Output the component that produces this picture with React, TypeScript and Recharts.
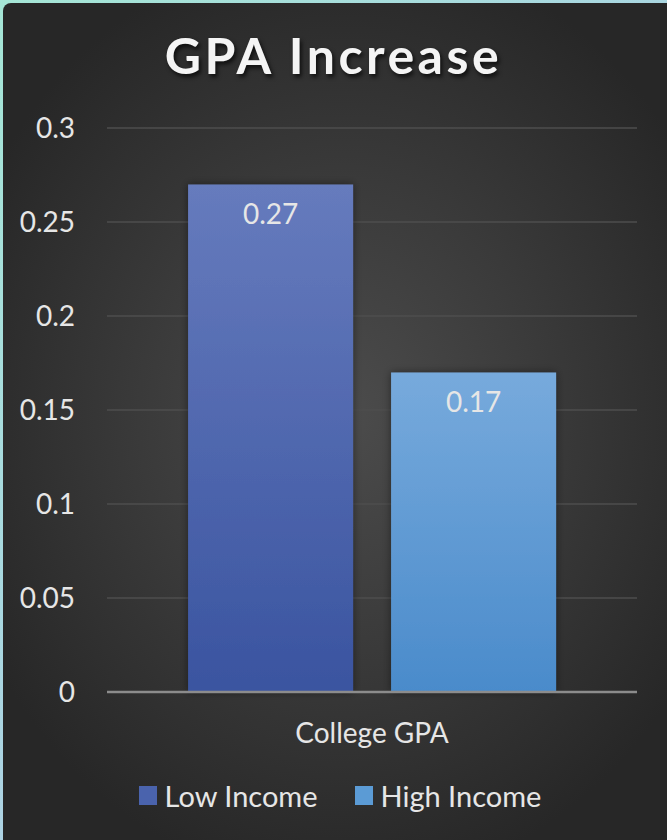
import React from 'react';
import { BarChart, Bar, XAxis, YAxis, CartesianGrid, Legend, LabelList } from 'recharts';

const categories = ['College GPA'];
const lowIncome = [0.27];
const highIncome = [0.17];
const yTicks = [0, 0.05, 0.1, 0.15, 0.2, 0.25, 0.3];

const data = categories.map((name, i) => ({
  name,
  low: lowIncome[i],
  high: highIncome[i],
}));

const FONT = 'Lato, "Open Sans", sans-serif';

const LegendContent = () => (
  <div
    style={{
      display: 'flex',
      justifyContent: 'center',
      gap: 37,
      fontFamily: FONT,
      fontSize: 29,
      color: '#e6e6e6',
    }}
  >
    {[
      { label: 'Low Income', color: '#4a63ad' },
      { label: 'High Income', color: '#5b9bd5' },
    ].map((it) => (
      <div key={it.label} style={{ display: 'flex', alignItems: 'center', gap: 8 }}>
        <span style={{ width: 18, height: 19, background: it.color, display: 'inline-block' }} />
        <span>{it.label}</span>
      </div>
    ))}
  </div>
);

export default function App() {
  return (
    <div
      style={{
        position: 'fixed',
        left: 0,
        top: 0,
        width: 667,
        height: 840,
        background: 'linear-gradient(135deg, #a5e6d6 0%, #a9d8e0 40%, #b9c3ec 100%)',
        overflow: 'hidden',
      }}
    >
      <div
        style={{
          position: 'absolute',
          left: 3,
          top: 3,
          width: 680,
          height: 860,
          borderRadius: 8,
          background: 'radial-gradient(ellipse 60% 55% at 50% 48%, #4c4c4c 0%, #3a3a3a 50%, #272727 100%)',
        }}
      />
      <div
        style={{
          position: 'absolute',
          left: 0,
          top: 25,
          width: 667,
          textAlign: 'center',
          fontFamily: FONT,
          fontWeight: 700,
          fontSize: 50,
          letterSpacing: 3.5,
          color: '#f4f4f4',
          textShadow: '2px 3px 4px rgba(0,0,0,0.7)',
        }}
      >
        GPA Increase
      </div>
      <div style={{ position: 'absolute', left: 0, top: 0 }}>
        <BarChart
          width={667}
          height={840}
          data={data}
          margin={{ top: 128, right: 30, left: 0, bottom: 43 }}
          barCategoryGap="15.3%"
          barGap={38}
        >
          <defs>
            <linearGradient id="lowGrad" x1="0" y1="0" x2="0" y2="1">
              <stop offset="0%" stopColor="#667bbd" />
              <stop offset="100%" stopColor="#3a54a0" />
            </linearGradient>
            <linearGradient id="highGrad" x1="0" y1="0" x2="0" y2="1">
              <stop offset="0%" stopColor="#77aadc" />
              <stop offset="100%" stopColor="#4a8bcb" />
            </linearGradient>
            <filter id="barShadow" x="-20%" y="-20%" width="140%" height="140%">
              <feDropShadow dx="0" dy="0" stdDeviation="4" floodColor="#000" floodOpacity="0.45" />
            </filter>
          </defs>
          <CartesianGrid vertical={false} stroke="#4e4e4e" strokeWidth={1.5} />
          <XAxis
            dataKey="name"
            axisLine={{ stroke: '#8c8c8c', strokeWidth: 2.5 }}
            tickLine={false}
            tickMargin={25}
            height={70}
            tick={{ fill: '#e6e6e6', fontSize: 28, fontFamily: FONT }}
          />
          <YAxis
            domain={[0, 0.3]}
            ticks={yTicks}
            width={107}
            axisLine={false}
            tickLine={false}
            tickMargin={26}
            tick={{ fill: '#e6e6e6', fontSize: 28, fontFamily: FONT }}
          />
          <Legend
            verticalAlign="bottom"
            content={<LegendContent />}
            wrapperStyle={{ bottom: 27, left: 0, width: 680 }}
          />
          <Bar dataKey="low" name="Low Income" fill="url(#lowGrad)" filter="url(#barShadow)" isAnimationActive={false}>
            <LabelList
              dataKey="low"
              position="insideTop"
              offset={20}
              fill="#e6e6e6"
              style={{ fontSize: 28, fontFamily: FONT }}
            />
          </Bar>
          <Bar dataKey="high" name="High Income" fill="url(#highGrad)" filter="url(#barShadow)" isAnimationActive={false}>
            <LabelList
              dataKey="high"
              position="insideTop"
              offset={20}
              fill="#e6e6e6"
              style={{ fontSize: 28, fontFamily: FONT }}
            />
          </Bar>
        </BarChart>
      </div>
    </div>
  );
}
